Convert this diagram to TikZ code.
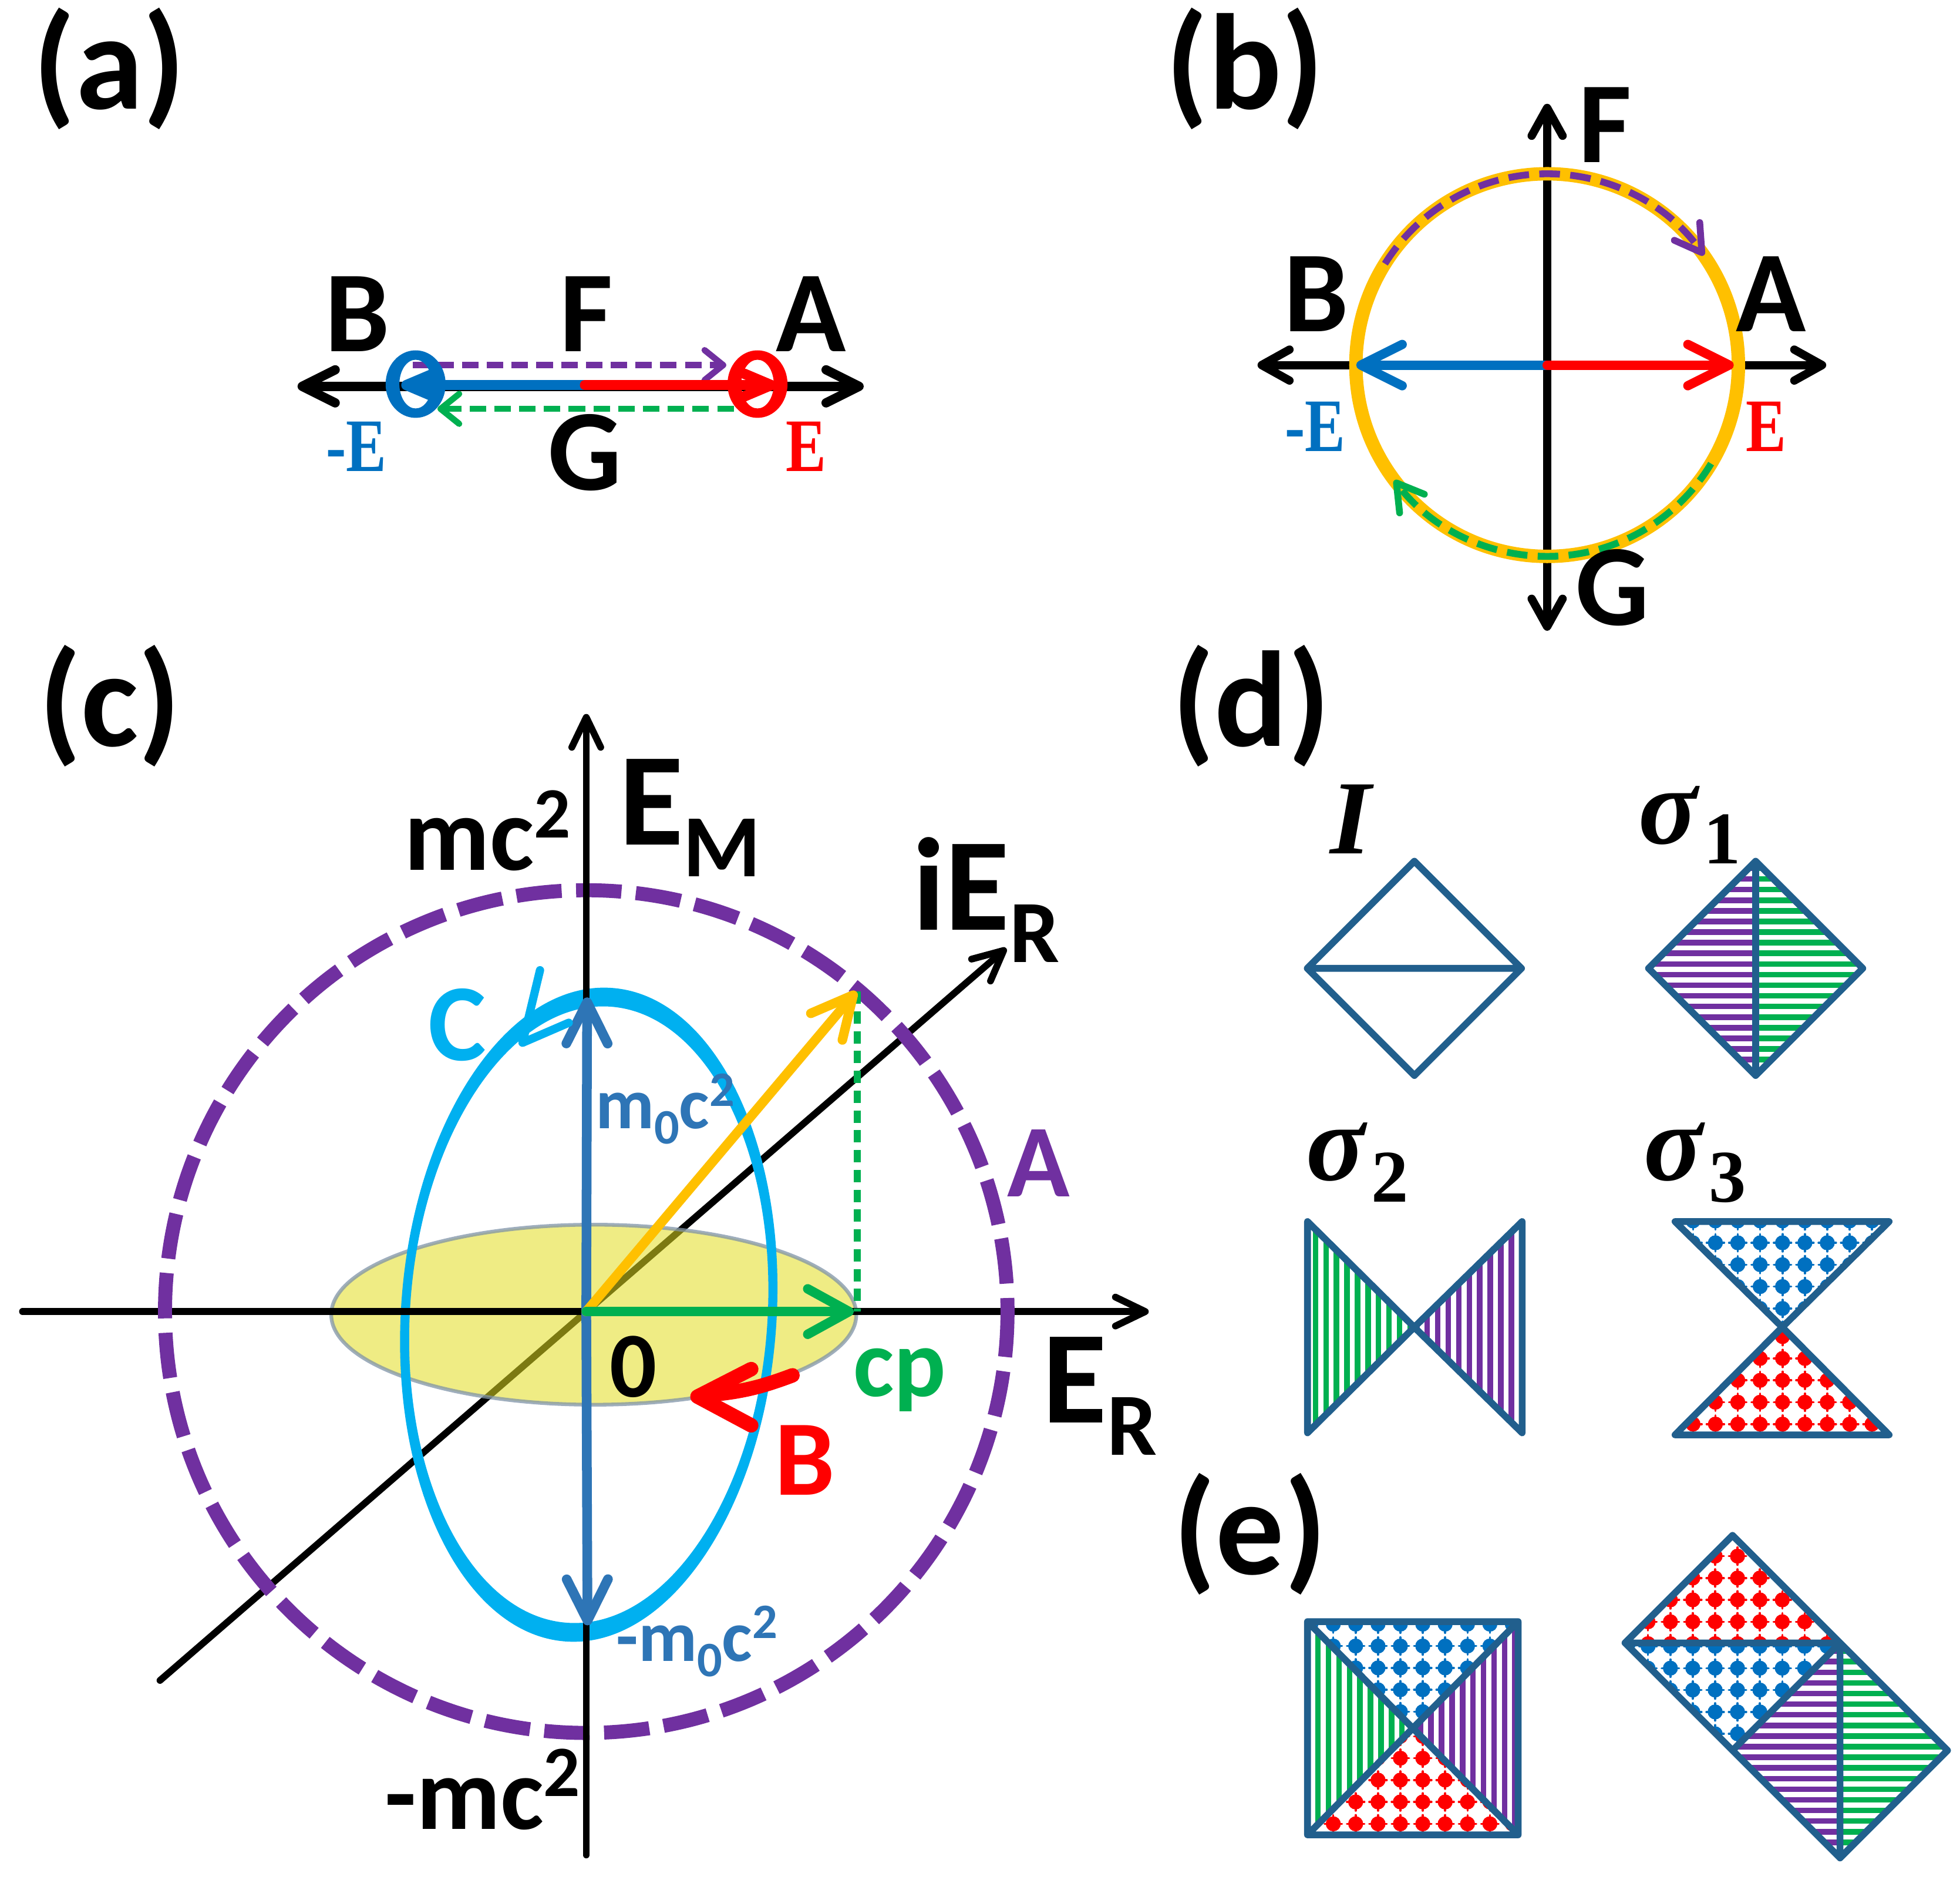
\documentclass[tikz,border=0pt]{standalone}
\usepackage{fontspec}
\setmainfont{Carlito}
\newfontfamily\serifb{Liberation Serif}
\usepackage{graphicx}
\usetikzlibrary{arrows.meta}
\definecolor{cpurple}{HTML}{7030A0}
\definecolor{cgreen}{HTML}{00B050}
\definecolor{cblue}{HTML}{0070C0}
\definecolor{cred}{HTML}{FF0000}
\definecolor{corange}{HTML}{FFC000}
\definecolor{ccyan}{HTML}{00B0F0}
\definecolor{csteel}{HTML}{2E75B6}
\definecolor{coutline}{HTML}{215F8D}
\definecolor{cyellow}{HTML}{E2DE20}
\definecolor{cyedge}{HTML}{7F93A8}
\newcommand\fs[1]{\fontsize{#1}{#1}\selectfont}
\newcommand\HStr[4]{\foreach \k in {0,...,25}{\draw[#1,line width=2.7pt,line cap=butt] (#2,{#4+\k*8.5}) -- (#3,{#4+\k*8.5});}}
\newcommand\VStr[4]{\foreach \k in {0,...,25}{\draw[#1,line width=2.7pt,line cap=butt] ({#2+\k*8.4},#3) -- ({#2+\k*8.4},#4);}}
\newcommand\DotGrid[3]{\foreach \i in {-6,...,6}{\foreach \j in {-6,...,6}{%
  \fill[#1] ({#2+\i*17.9},{#3+\j*17.5}) circle[radius=6];
  \draw[#1,line width=1pt] ({#2+\i*17.9-7},{#3+\j*17.5}) -- ({#2+\i*17.9+7},{#3+\j*17.5})
     ({#2+\i*17.9},{#3+\j*17.5-7}) -- ({#2+\i*17.9},{#3+\j*17.5+7});}}}
\tikzset{
 lbl/.style={inner sep=0pt,outer sep=0pt,anchor=base,font=\bfseries},
 outl/.style={draw=coutline,line width=3.3pt,line join=round},
 tipA/.tip={Straight Barb[length=16pt,width=16pt,round]},
 tipB/.tip={Straight Barb[length=13.5pt,width=15pt,round]},
 tipC/.tip={Straight Barb[length=14.5pt,width=14pt,round]},
 tipS/.tip={Straight Barb[length=9pt,width=14.5pt,round]},
 tipM/.tip={Straight Barb[length=13pt,width=11pt,round]},
 tipL/.tip={Straight Barb[length=20pt,width=20pt,round]},
 tipG/.tip={Straight Barb[length=20pt,width=22pt,round]},
 tipR/.tip={Straight Barb[length=12.5pt,width=15pt,round]},
}
\begin{document}
\begin{tikzpicture}[x=0.021288cm,y=-0.021288cm,line cap=round,line join=round]
\fill[white] (0,0) rectangle (1568,1503.2);
\useasboundingbox (0,0) rectangle (1568,1503.2);

% panel labels
\node[lbl] (la) at (87.5,87) {\fs{66}(a)};
\node[lbl] (lb) at (996,87) {\fs{66}(b)};
\node[lbl] (lc) at (88,597) {\fs{66}(c)};
\node[lbl] (ld) at (1001,597) {\fs{66}(d)};
\node[lbl] (le) at (1000,1259) {\fs{66}(e)};

% ---------------- panel a
\coordinate (aL) at (238,309); \coordinate (aR) at (691,309);
\coordinate (aM) at (468,308);
\draw[line width=4.5pt,tipA-tipA] (aL) -- (aR);
\coordinate (apS) at (330,292); \coordinate (apE) at (581,292);
\draw[cpurple,line width=3pt,dash pattern=on 8pt off 4pt,line cap=butt,-tipS] (apS) -- (apE);
\coordinate (agS) at (587,327); \coordinate (agE) at (350,327);
\draw[cgreen,line width=3pt,dash pattern=on 8pt off 4pt,line cap=butt,-tipS] (agS) -- (agE);
\fill[cblue,even odd rule] (332.5,307.2) ellipse[x radius=24,y radius=27] (332.5,307.2) ellipse[x radius=13,y radius=19.5];
\fill[cred,even odd rule] (606,307.2) ellipse[x radius=24,y radius=27] (606,307.2) ellipse[x radius=13,y radius=19.5];
\coordinate (abT) at (321,308); \coordinate (arT) at (621,308);
\draw[cblue,line width=5pt,-tipM] (aM) -- (abT);
\draw[cred,line width=5pt,-tipM] (aM) -- (arT);
\node[lbl] (aB) at (286,281) {\fs{56}B};
\node[lbl] (aF) at (469,281) {\fs{56}F};
\node[lbl] (aA) at (649,281) {\fs{56}A};
\node[lbl] (aG) at (468,392) {\fs{56}G};
\node[lbl,text=cblue] (amE) at (285,377) {\serifb\bfseries\fs{36.6}\scalebox{0.8}[1]{-E}};
\node[lbl,text=cred] (aE) at (645,377) {\serifb\bfseries\fs{36.6}\scalebox{0.8}[1]{E}};

% ---------------- panel b
\coordinate (bO) at (1237.7,292);
\coordinate (bT) at (1237.7,83); \coordinate (bD) at (1237.7,504.5);
\coordinate (bL) at (1006,292); \coordinate (bR) at (1461,292);
\draw[line width=4pt,tipB-tipB] (bD) -- (bT);
\draw[line width=4pt,tipB-tipB] (bL) -- (bR);
\draw[corange,line width=6.5pt] (bO) circle[radius=153];
\coordinate (bbT) at (1085,292); \coordinate (brT) at (1387,292);
\draw[cblue,line width=4.5pt,-tipL] (bO) -- (bbT);
\draw[cred,line width=4.5pt,-tipL] (bO) -- (brT);
\draw[cpurple,line width=3.3pt,dash pattern=on 10pt off 5pt,line cap=butt,-tipR] (bO) ++(-148:153) arc[start angle=-148,end angle=-35,radius=153];
\draw[cgreen,line width=3.3pt,dash pattern=on 10pt off 5pt,line cap=butt,-tipR] (bO) ++(31:153) arc[start angle=31,end angle=143,radius=153];
\node[lbl] (bF) at (1284,130) {\fs{56}F};
\node[lbl] (bB) at (1053,265) {\fs{56}B};
\node[lbl] (bA) at (1417,265) {\fs{56}A};
\node[lbl] (bG) at (1290,500) {\fs{56}G};
\node[lbl,text=cblue] (bmE) at (1052,361) {\serifb\bfseries\fs{36.6}\scalebox{0.8}[1]{-E}};
\node[lbl,text=cred] (bE) at (1413,361) {\serifb\bfseries\fs{36.6}\scalebox{0.8}[1]{E}};

% ---------------- panel c
\coordinate (O) at (469,1049);
\coordinate (dgA) at (128,1344); \coordinate (dgB) at (805,758.4);
\draw[line width=3.3pt,-tipC] (dgA) -- (dgB);
\filldraw[fill=cyellow,fill opacity=0.55,draw=cyedge,draw opacity=0.75,line width=1.8pt] (475,1051.5) ellipse[x radius=210,y radius=72];
\fill[ccyan,even odd rule,rotate around={-4:(471,1051.5)}] (471,1051.5) ellipse[x radius=150.2,y radius=262] (471,1051.5) ellipse[x radius=143,y radius=247];
\coordinate (hxL) at (18,1049); \coordinate (hxR) at (919,1049);
\draw[line width=3.3pt,-tipC] (hxL) -- (hxR);
\draw[cpurple,line width=6.8pt,dash pattern=on 22pt off 7pt,line cap=butt] (O) circle[radius=337];
\coordinate (vyB) at (469,1483.6); \coordinate (vyT) at (469,571);
\draw[line width=3.3pt,-tipC] (vyB) -- (vyT);
\coordinate (yT) at (685,793); \coordinate (gdB) at (685.8,1049); \coordinate (gdT) at (685.8,793);
\draw[cgreen,line width=3.2pt,dash pattern=on 6pt off 3.6pt,line cap=butt] (gdT) -- (gdB);
\coordinate (buT) at (469.7,797.7); \coordinate (bdT) at (470,1300);
\draw[csteel,line width=4.7pt,-tipL] (O) -- (buT);
\draw[csteel,line width=4.7pt,-tipL] (O) -- (bdT);
\draw[corange,line width=4.6pt,-tipL] (O) -- (yT);
\coordinate (gT) at (683,1049);
\draw[cgreen,line width=4.6pt,-tipG] (O) -- (gT);
\coordinate (rS) at (634,1100); \coordinate (rT) at (558,1117);
\draw[cred,line width=7pt] (rS) to[bend left=8] (563,1116);
\draw[cred,line width=7pt] (601,1095) -- (rT) -- (601,1140);
\draw[ccyan,line width=4pt] (432,776) -- (418,834) -- (455,818);
\node[lbl] (cmc) at (390,696) {\fs{51}mc\raisebox{15.7pt}{\fs{35}2}};
\node[lbl] (cEM) at (552,675.5) {\fs{64}E\raisebox{-15.4pt}{\fs{43}M}};
\node[lbl] (ciER) at (789,743.7) {\fs{64}iE\raisebox{-15.7pt}{\fs{43}R}};
\node[lbl,text=ccyan] (cC) at (365.7,848) {\fs{53}C};
\node[lbl,text=csteel] (cm0) at (532,902.6) {\fs{35}m\raisebox{-7.5pt}{\fs{24}0}c\raisebox{10.9pt}{\fs{24}2}};
\node[lbl,text=cpurple] (cA) at (831,957) {\fs{50}A};
\node[lbl] (c0) at (506.5,1117.5) {\fs{45}0};
\node[lbl,text=cgreen] (ccp) at (720,1117) {\fs{47}cp};
\node[lbl,text=cred] (cB) at (644,1195.5) {\fs{52}B};
\node[lbl] (cER) at (880,1138) {\fs{64}E\raisebox{-15.7pt}{\fs{43}R}};
\node[lbl,text=csteel] (cmm0) at (557.5,1328.5) {\fs{35}-m\raisebox{-7.5pt}{\fs{24}0}c\raisebox{10.9pt}{\fs{24}2}};
\node[lbl] (cmmc) at (386,1462.8) {\fs{50}-mc\raisebox{15.7pt}{\fs{35}2}};

% ---------------- panel d
\node[lbl] (dI) at (1080.6,682.6) {\serifb\bfseries\itshape\fs{51}I};
\node[lbl,anchor=base west] (ds1) at (1311,674.8) {\serifb\bfseries\itshape\fs{53}σ\hspace{3pt}\raisebox{-9.8pt}{\upshape\fs{36}1}};
\node[lbl,anchor=base west] (ds2) at (1045,944) {\serifb\bfseries\itshape\fs{53}σ\hspace{3pt}\raisebox{-10.6pt}{\upshape\fs{36}2}};
\node[lbl,anchor=base west] (ds3) at (1315,944) {\serifb\bfseries\itshape\fs{53}σ\hspace{3pt}\raisebox{-10.6pt}{\upshape\fs{36}3}};

% I
\coordinate (It) at (1131.5,688.8); \coordinate (Il) at (1045.8,774.5);
\coordinate (Ir) at (1217.2,774.5); \coordinate (Ib) at (1131.5,860.2);
\draw[outl] (It)--(Ir)--(Ib)--(Il)--cycle (Il)--(Ir);
% sigma1
\coordinate (St) at (1404.5,688.8); \coordinate (Sl) at (1318.8,774.5);
\coordinate (Sr) at (1490.2,774.5); \coordinate (Sb) at (1404.5,860.2);
\begin{scope}\clip (St)--(Sl)--(Sb)--cycle; \HStr{cpurple}{1300}{1420}{686}\end{scope}
\begin{scope}\clip (St)--(Sr)--(Sb)--cycle; \HStr{cgreen}{1390}{1500}{686}\end{scope}
\draw[outl] (St)--(Sr)--(Sb)--(Sl)--cycle (St)--(Sb);
% sigma2
\coordinate (Tl) at (1046,977); \coordinate (Bl) at (1046,1146); \coordinate (Cc) at (1131.4,1061.5);
\coordinate (Tr) at (1217.7,977); \coordinate (Br) at (1217.7,1146);
\begin{scope}\clip (Tl)--(Bl)--(Cc)--cycle; \VStr{cgreen}{1044}{970}{1150}\end{scope}
\begin{scope}\clip (Tr)--(Br)--(Cc)--cycle; \VStr{cpurple}{1125}{970}{1150}\end{scope}
\draw[outl] (Tl)--(Bl)--(Cc)--cycle (Tr)--(Br)--(Cc)--cycle;
% sigma3
\coordinate (Ul) at (1340,977); \coordinate (Ur) at (1511.3,977); \coordinate (Uc) at (1425.8,1061.5);
\coordinate (Ll) at (1340,1147.6); \coordinate (Lr) at (1511.3,1147.6);
\begin{scope}\clip (Ul)--(Ur)--(Uc)--cycle; \DotGrid{cblue}{1426}{1011.5}\end{scope}
\begin{scope}\clip (Ll)--(Lr)--(Uc)--cycle; \DotGrid{cred}{1426}{1104}\end{scope}
\draw[outl] (Ul)--(Ur)--(Uc)--cycle (Ll)--(Lr)--(Uc)--cycle;

% ---------------- panel e
\coordinate (Q1) at (1046,1297); \coordinate (Q2) at (1214.5,1297);
\coordinate (Q3) at (1214.5,1467.5); \coordinate (Q4) at (1046,1467.5);
\coordinate (Qc) at (1130.25,1382.25);
\begin{scope}\clip (Q1)--(Q2)--(Qc)--cycle; \DotGrid{cblue}{1120.3}{1334}\end{scope}
\begin{scope}\clip (Q4)--(Q3)--(Qc)--cycle; \DotGrid{cred}{1120.3}{1441.2}\end{scope}
\begin{scope}\clip (Q1)--(Q4)--(Qc)--cycle; \VStr{cgreen}{1046}{1290}{1470}\end{scope}
\begin{scope}\clip (Q2)--(Q3)--(Qc)--cycle; \VStr{cpurple}{1128}{1290}{1470}\end{scope}
\draw[outl] (Q1)--(Q2)--(Q3)--(Q4)--cycle (Q1)--(Q3) (Q2)--(Q4);

\coordinate (D1t) at (1386,1228); \coordinate (D1l) at (1300,1314);
\coordinate (D1r) at (1472,1314); \coordinate (D1b) at (1386,1400);
\coordinate (D2r) at (1558,1400); \coordinate (D2b) at (1472,1486);
\begin{scope}\clip (D1t)--(D1l)--(D1r)--cycle; \DotGrid{cred}{1390}{1279.6}\end{scope}
\begin{scope}\clip (D1l)--(D1b)--(D1r)--cycle; \DotGrid{cblue}{1390}{1351.7}\end{scope}
\begin{scope}\clip (D1r)--(D1b)--(D2b)--cycle; \HStr{cpurple}{1380}{1480}{1312}\end{scope}
\begin{scope}\clip (D1r)--(D2r)--(D2b)--cycle; \HStr{cgreen}{1465}{1565}{1312}\end{scope}
\draw[outl] (D1t)--(D1r)--(D2r)--(D2b)--(D1b)--(D1l)--cycle (D1l)--(D1r)--(D2b) (D1r)--(D1b);
\end{tikzpicture}
\end{document}
